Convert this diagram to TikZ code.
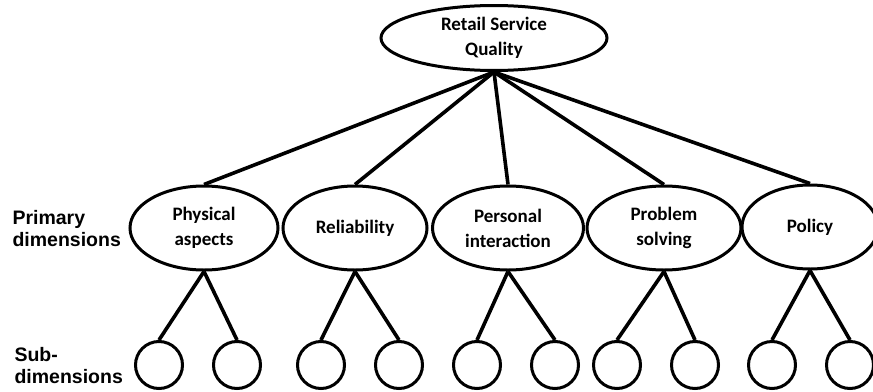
\documentclass[tikz,border=0pt]{standalone}
\usepackage{fontspec}
\setmainfont{Carlito}
\newfontfamily\labelfont{Liberation Sans}
\usetikzlibrary{shapes.geometric}

\begin{document}
\begin{tikzpicture}[x=1pt, y=-1pt,
        dimnode/.style={draw, ellipse, line width=3pt, inner sep=0pt, align=center,
            minimum height=84pt, font=\fontsize{19}{25}\selectfont\bfseries},
        subnode/.style={draw, circle, line width=3pt, minimum size=47pt, inner sep=0pt},
        link/.style={line width=3.6pt},
        sidelabel/.style={anchor=west, align=left, font=\labelfont\fontsize{19.5}{22}\selectfont\bfseries}]
        \useasboundingbox (0,0) rectangle (873,391);

        \node[dimnode, minimum width=226pt, minimum height=65pt](quality) at (494, 38){Retail Service\\Quality};

        \node[dimnode, minimum width=148pt](physical) at (204, 228){Physical\\aspects};
        \node[dimnode, minimum width=144pt](reliability) at (355, 228){Reliability};
        \node[dimnode, minimum width=151pt](personal) at (508, 228){Personal\\interaction};
        \node[dimnode, minimum width=154pt](problem) at (664, 228){Problem\\solving};
        \node[dimnode, minimum width=136pt](policy) at (810, 227){Policy};

        \node[sidelabel](primary) at (9, 229){Primary\\dimensions};
        \node[sidelabel](sub) at (11, 366){Sub-\\dimensions};

        \draw[link] (quality.south) -- (physical.north);
        \draw[link] (quality.south) -- (reliability.north);
        \draw[link] (quality.south) -- (personal.north);
        \draw[link] (quality.south) -- (problem.north);
        \draw[link] (quality.south) -- (policy.north);

        \node[subnode](p1) at (159, 365){};
        \node[subnode](p2) at (237, 365){};
        \node[subnode](r1) at (321, 365){};
        \node[subnode](r2) at (399, 365){};
        \node[subnode](i1) at (477, 365){};
        \node[subnode](i2) at (555, 365){};
        \node[subnode](s1) at (617, 365){};
        \node[subnode](s2) at (695, 365){};
        \node[subnode](o1) at (772, 365){};
        \node[subnode](o2) at (850, 365){};

        \draw[link] (physical.south) -- (p1.north);
        \draw[link] (physical.south) -- (p2.north);
        \draw[link] (reliability.south) -- (r1.north);
        \draw[link] (reliability.south) -- (r2.north);
        \draw[link] (personal.south) -- (i1.north);
        \draw[link] (personal.south) -- (i2.north);
        \draw[link] (problem.south) -- (s1.north);
        \draw[link] (problem.south) -- (s2.north);
        \draw[link] (policy.south) -- (o1.north);
        \draw[link] (policy.south) -- (o2.north);
    \end{tikzpicture}
\end{document}
